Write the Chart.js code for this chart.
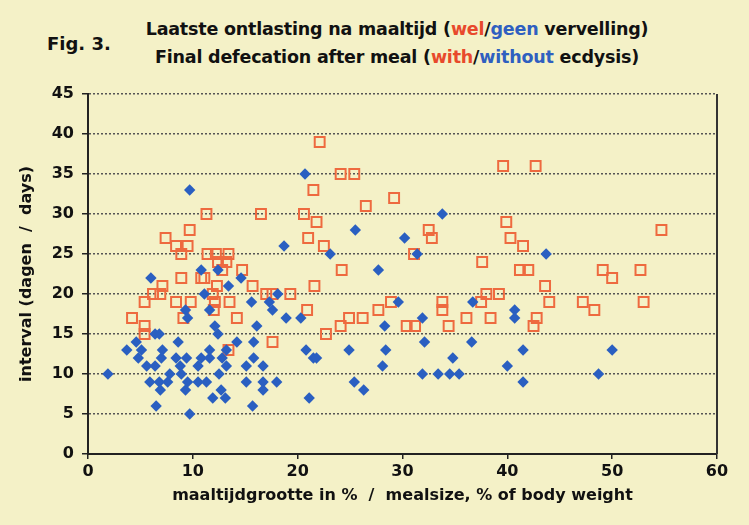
<!DOCTYPE html>
<html>
<head>
<meta charset="utf-8">
<script src="https://cdn.jsdelivr.net/npm/chart.js@4/dist/chart.umd.min.js"></script>
<style>
  body { margin: 0; background: #f4f1c7; }
  #wrap { position: relative; width: 749px; height: 525px; background: #f4f1c7; font-family: "DejaVu Sans", sans-serif; }
  .title { position: absolute; left: 397px; transform: translateX(-50%); white-space: nowrap; font-weight: bold; font-size: 17.5px; color: #111; letter-spacing: -0.2px; }
  .red { color: #e8492c; }
  .blue { color: #2f5fc0; }
  #fig { position: absolute; left: 47px; top: 33px; font-weight: bold; font-size: 18px; color: #111; }
  canvas { position: absolute; left: 0; top: 0; }
</style>
</head>
<body>
<div id="wrap">
  <div class="title" style="top:19px">Laatste ontlasting na maaltijd (<span class="red">wel</span>/<span class="blue">geen</span> vervelling)</div>
  <div class="title" style="top:47px">Final defecation after meal (<span class="red">with</span>/<span class="blue">without</span> ecdysis)</div>
  <div id="fig">Fig. 3.</div>
  <canvas id="scatterChart" width="749" height="525"></canvas>
</div>
<script>
// meal size (% of body weight) and interval (days)

// with ecdysis (orange open squares)
const withX = [4.2, 5.4, 5.4, 5.4, 6.2, 6.9, 7.1, 7.4, 8.4, 9.5, 8.9, 9.7, 8.4, 9.8, 8.9, 9.1,
    10.8, 11.1, 11.3, 11.4, 12.2, 13.4, 12.4, 13.2, 12.8, 14.7, 12.3, 11.9, 12.1, 12.0, 13.5, 14.2,
    13.4, 15.7, 16.5, 17.0, 17.6, 17.6, 19.3, 20.6, 21.8, 21.0, 20.9, 21.6,
    22.1, 24.1, 25.4, 21.5, 29.2, 26.5, 22.5, 31.1, 24.2, 28.9, 27.7, 24.9, 26.2, 24.1, 30.4, 31.2,
    22.7, 32.5, 32.8, 33.8, 33.8, 34.4, 36.1, 37.5, 37.6, 38.0, 39.2, 38.4, 39.6, 39.9, 40.3, 41.5,
    41.2, 42.0, 42.7, 43.6, 44.0, 42.8, 42.5, 47.2, 48.3, 49.1, 50.0, 52.7, 53.0, 54.7];
const withY = [17, 16, 15, 19, 20, 20, 21, 27, 26, 26, 25, 28, 19, 19, 22, 17,
    22, 22, 30, 25, 25, 25, 24, 24, 23, 23, 21, 20, 19, 18, 19, 17,
    13, 21, 30, 20, 20, 14, 20, 30, 29, 27, 18, 21,
    39, 35, 35, 33, 32, 31, 26, 25, 23, 19, 18, 17, 17, 16, 16, 16,
    15, 28, 27, 19, 18, 16, 17, 19, 24, 20, 20, 17, 36, 29, 27, 26,
    23, 23, 36, 21, 19, 17, 16, 19, 18, 23, 22, 23, 19, 28];

// without ecdysis (blue diamonds)
const withoutX = [1.9, 3.7, 4.6, 4.8, 5.1, 5.6, 6.4, 5.9, 6.8, 6.0, 6.4, 6.8, 6.5, 6.9, 7.0, 7.1,
    7.6, 7.8, 8.4, 8.6, 8.8, 8.9, 9.3, 9.3, 9.4, 9.5, 9.5, 9.7, 9.7, 10.5, 10.5, 10.8,
    10.8, 11.1, 11.3, 11.6, 11.6, 11.6, 11.9, 12.1, 12.4, 12.4, 12.5, 12.7, 12.8, 13.1, 13.2, 13.2,
    13.4, 14.2, 14.6, 15.1, 15.1, 15.6, 15.7, 15.8, 15.8, 16.1, 16.7, 16.7, 16.7, 17.3, 17.6, 18.0,
    18.1, 18.7, 18.9, 20.3, 20.8, 21.1, 21.5, 21.8, 20.7,
    23.1, 24.9, 25.4, 25.5, 26.3, 27.7, 28.1, 28.3, 28.4, 29.6, 30.2, 31.4, 31.9, 31.9, 32.1, 33.4,
    33.8, 34.5, 34.8, 35.4, 36.6, 36.7, 40.0, 40.7, 40.7, 41.5, 41.5, 43.7, 48.7, 50.0];
const withoutY = [10, 13, 14, 12, 13, 11, 11, 9, 9, 22, 15, 15, 6, 8, 12, 13,
    9, 10, 12, 14, 11, 10, 8, 18, 12, 9, 17, 5, 33, 11, 9, 12,
    23, 20, 9, 12, 13, 18, 7, 16, 15, 23, 10, 8, 12, 7, 11, 13,
    21, 14, 22, 11, 9, 19, 6, 12, 14, 16, 11, 9, 8, 19, 18, 9,
    20, 26, 17, 17, 13, 7, 12, 12, 35,
    25, 13, 9, 28, 8, 23, 11, 16, 13, 19, 27, 25, 17, 10, 14, 10,
    30, 10, 12, 10, 14, 19, 11, 18, 17, 13, 9, 25, 10, 13];

const xTicks = [0, 10, 20, 30, 40, 50, 60];
const yTicks = [0, 5, 10, 15, 20, 25, 30, 35, 40, 45];

function toPoints(xs, ys) {
    return xs.map((x, i) => ({ x: x, y: ys[i] }));
}

const tickFont = { family: "'DejaVu Sans', sans-serif", size: 16, weight: "bold" };
const titleFont = { family: "'DejaVu Sans', sans-serif", size: 16, weight: "bold" };

// right-hand frame line
const frameRight = {
    id: "frameRight",
    afterDraw(chart) {
        const { ctx, chartArea } = chart;
        ctx.save();
        ctx.strokeStyle = "#333";
        ctx.lineWidth = 2;
        ctx.beginPath();
        ctx.moveTo(chartArea.right, chartArea.top);
        ctx.lineTo(chartArea.right, chartArea.bottom);
        ctx.stroke();
        ctx.restore();
    }
};

new Chart(document.getElementById("scatterChart"), {
    type: "scatter",
    data: {
        datasets: [{
            label: "without",
            data: toPoints(withoutX, withoutY),
            pointStyle: "rectRot",
            radius: 5.7,
            backgroundColor: "#2a5fc1",
            borderColor: "#2a5fc1",
            borderWidth: 0
        }, {
            label: "with",
            data: toPoints(withX, withY),
            pointStyle: "rect",
            radius: 7,
            backgroundColor: "rgba(0,0,0,0)",
            borderColor: "#ee6a3f",
            borderWidth: 2
        }]
    },
    options: {
        responsive: false,
        animation: false,
        layout: { padding: { top: 94, right: 32, left: 0, bottom: 0 } },
        plugins: { legend: { display: false }, tooltip: { enabled: false } },
        scales: {
            x: {
                type: "linear",
                min: 0,
                max: 60,
                afterBuildTicks: s => { s.ticks = xTicks.map(v => ({ value: v })); },
                afterFit: s => { s.height = 71; },
                ticks: { font: tickFont, color: "#111", padding: 3 },
                grid: { drawOnChartArea: false, drawTicks: true, tickLength: 5, color: "#222", lineWidth: 1.5 },
                border: { color: "#222", width: 2 },
                title: {
                    display: true,
                    text: "maaltijdgrootte in %  /  mealsize, % of body weight",
                    font: titleFont,
                    color: "#111",
                    padding: { top: 0, bottom: 20 }
                }
            },
            y: {
                min: 0,
                max: 45,
                afterBuildTicks: s => { s.ticks = yTicks.map(v => ({ value: v })); },
                afterFit: s => { s.width = 88; },
                ticks: { font: tickFont, color: "#111", padding: 8 },
                grid: {
                    color: c => c.tick && c.tick.value === 0 ? "rgba(0,0,0,0)" : "#555",
                    lineWidth: 1.5,
                    tickLength: 6,
                    tickColor: "#222"
                },
                border: { color: "#222", width: 2, dash: [2, 2] },
                title: {
                    display: true,
                    text: "interval (dagen  /  days)",
                    font: titleFont,
                    color: "#111",
                    padding: { top: 17, bottom: 0 }
                }
            }
        }
    },
    plugins: [frameRight]
});
</script>
</body>
</html>
